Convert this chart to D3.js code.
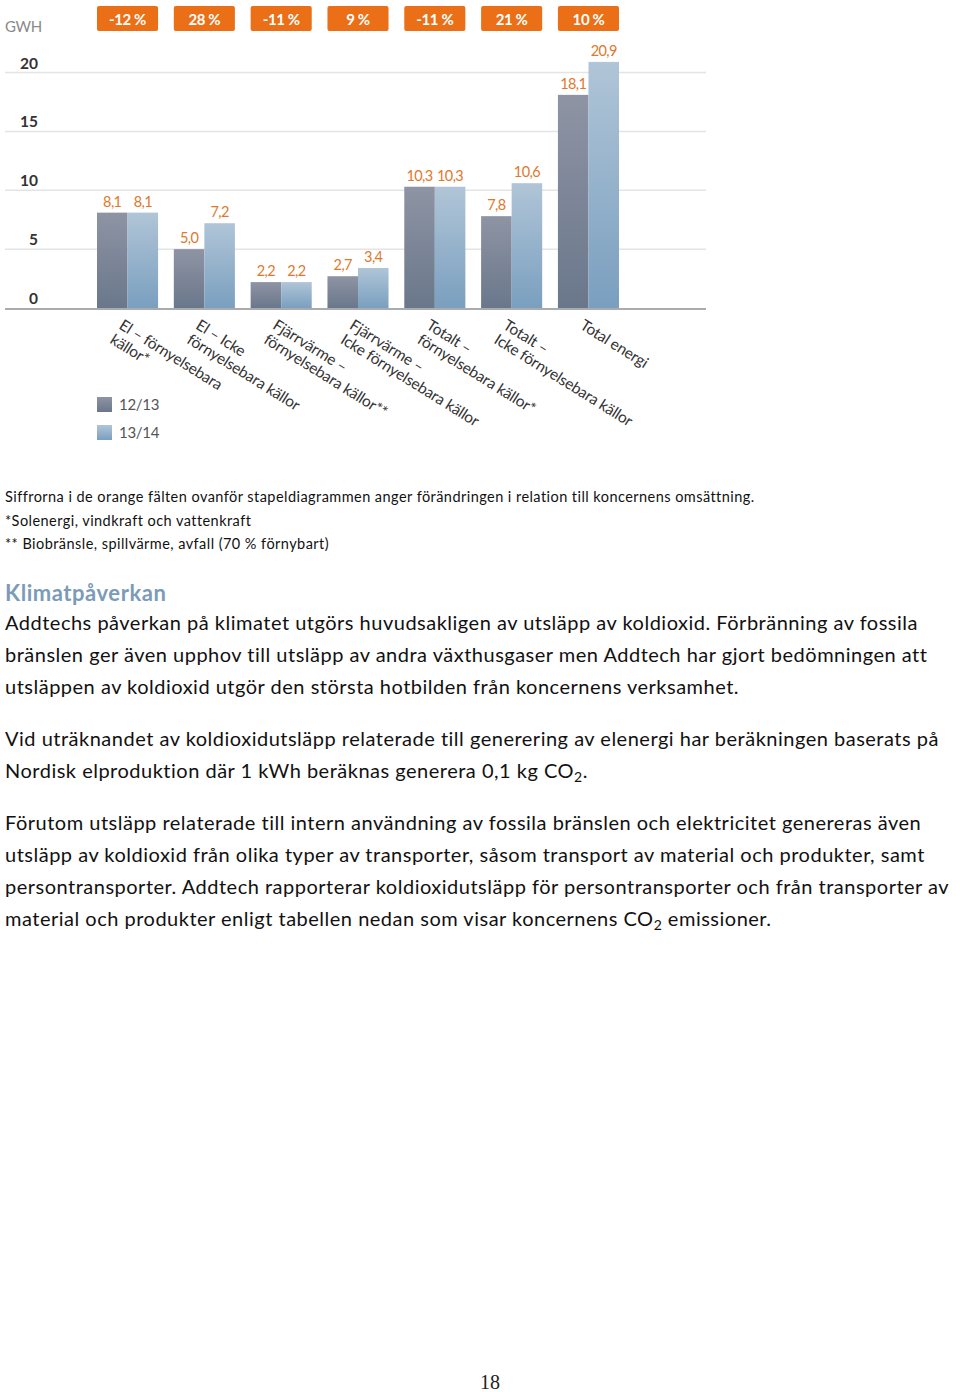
<!DOCTYPE html>
<html lang="sv">
<head>
<meta charset="UTF-8">
<title>Energiförbrukning GWh</title>
<script src="https://d3js.org/d3.v7.min.js"></script>
<style>
  body { margin: 0; background: #fff; }
  svg { display: block; }
  .tick-label { font-family: Lato, sans-serif; font-weight: 700; font-size: 15.5px; fill: #333; }
  .val-label { font-family: Lato, sans-serif; font-size: 14.5px; fill: #e0782c; letter-spacing: -0.6px; }
  .cat-label { font-family: Lato, sans-serif; font-size: 15.5px; fill: #333; letter-spacing: -0.2px; }
  .body-text { font-family: Lato, sans-serif; fill: #111; }
</style>
</head>
<body>
<div id="chart"></div>
<script>
// data
const categories = ["El – förnyelsebara källor*", "El – Icke förnyelsebara källor",
    "Fjärrvärme – förnyelsebara källor**", "Fjärrvärme – Icke förnyelsebara källor",
    "Totalt – förnyelsebara källor*", "Totalt – Icke förnyelsebara källor", "Total energi"];
const categoryLines = [
    ["El – förnyelsebara", "källor*"],
    ["El – Icke", "förnyelsebara källor"],
    ["Fjärrvärme –", "förnyelsebara källor**"],
    ["Fjärrvärme –", "Icke förnyelsebara källor"],
    ["Totalt –", "förnyelsebara källor*"],
    ["Totalt –", "Icke förnyelsebara källor"],
    ["Total energi"]
];
const years = ["12/13", "13/14"];
const values1213 = [8.1, 5.0, 2.2, 2.7, 10.3, 7.8, 18.1];
const values1314 = [8.1, 7.2, 2.2, 3.4, 10.3, 10.6, 20.9];
const changes = ["-12 %", "28 %", "-11 %", "9 %", "-11 %", "21 %", "10 %"];
const yTicks = [0, 5, 10, 15, 20];

const noteLines = [
    "Siffrorna i de orange fälten ovanför stapeldiagrammen anger förändringen i relation till koncernens omsättning.",
    "*Solenergi, vindkraft och vattenkraft",
    "** Biobränsle, spillvärme, avfall (70 % förnybart)"
];
const heading = "Klimatpåverkan";
const paragraphs = [
    ["Addtechs påverkan på klimatet utgörs huvudsakligen av utsläpp av koldioxid. Förbränning av fossila",
     "bränslen ger även upphov till utsläpp av andra växthusgaser men Addtech har gjort bedömningen att",
     "utsläppen av koldioxid utgör den största hotbilden från koncernens verksamhet."],
    ["Vid uträknandet av koldioxidutsläpp relaterade till generering av elenergi har beräkningen baserats på",
     "Nordisk elproduktion där 1 kWh beräknas generera 0,1 kg CO₂."],
    ["Förutom utsläpp relaterade till intern användning av fossila bränslen och elektricitet genereras även",
     "utsläpp av koldioxid från olika typer av transporter, såsom transport av material och produkter, samt",
     "persontransporter. Addtech rapporterar koldioxidutsläpp för persontransporter och från transporter av",
     "material och produkter enligt tabellen nedan som visar koncernens CO₂ emissioner."]
];
const pageNumber = "18";

const W = 960, H = 1392;
const svg = d3.select("#chart").append("svg")
    .attr("width", W).attr("height", H);

const data = categories.map((c, i) => ({ cat: c, vals: [values1213[i], values1314[i]], change: changes[i], lines: categoryLines[i] }));

const x = d3.scaleBand()
    .domain(categories)
    .range([97, 619])
    .paddingInner(0.205)
    .paddingOuter(0);

const xs = d3.scaleBand().domain(years).range([0, x.bandwidth()]);

const y = d3.scaleLinear().domain([0, 20]).range([308, 72.5]);

// gradients
const defs = svg.append("defs");
const grads = [["g1213", "#8e94a4", "#6a778b"], ["g1314", "#b0c5d7", "#7a9fbf"]];
grads.forEach(([id, top, bottom]) => {
    const g = defs.append("linearGradient").attr("id", id)
        .attr("x1", 0).attr("y1", 0).attr("x2", 0).attr("y2", 1);
    g.append("stop").attr("offset", "0%").attr("stop-color", top);
    g.append("stop").attr("offset", "100%").attr("stop-color", bottom);
});
const fillFor = { "12/13": "url(#g1213)", "13/14": "url(#g1314)" };

// grid
svg.append("g").selectAll("line")
    .data(yTicks.filter(d => d > 0))
    .join("line")
    .attr("x1", 5).attr("x2", 706)
    .attr("y1", d => y(d)).attr("y2", d => y(d))
    .attr("stroke", "#e2e4e6").attr("stroke-width", 1.5);

// y labels
svg.append("g").selectAll("text")
    .data(yTicks)
    .join("text")
    .attr("class", "tick-label")
    .attr("x", 38)
    .attr("y", d => y(d) - 4)
    .attr("text-anchor", "end")
    .text(d => d);

svg.append("text")
    .attr("x", 5).attr("y", 32)
    .attr("font-family", "Lato, sans-serif").attr("font-size", 15)
    .attr("fill", "#8a8a8a").attr("letter-spacing", "-0.3px")
    .text("GWH");

// orange change boxes
const boxes = svg.append("g").selectAll("g")
    .data(data)
    .join("g");
boxes.append("rect")
    .attr("x", d => x(d.cat))
    .attr("y", 6)
    .attr("width", x.bandwidth())
    .attr("height", 25)
    .attr("rx", 2)
    .attr("fill", "#ea6f16");
boxes.append("text")
    .attr("x", d => x(d.cat) + x.bandwidth() / 2)
    .attr("y", 24.5)
    .attr("text-anchor", "middle")
    .attr("font-family", "Lato, sans-serif")
    .attr("font-weight", 700)
    .attr("font-size", 15)
    .attr("letter-spacing", "-0.4px")
    .attr("fill", "#fff")
    .text(d => d.change);

// bars
const fmt = v => v.toFixed(1).replace(".", ",");
const groups = svg.append("g").selectAll("g")
    .data(data)
    .join("g")
    .attr("transform", d => `translate(${x(d.cat)},0)`);

groups.selectAll("rect")
    .data(d => d.vals.map((v, j) => ({ year: years[j], v })))
    .join("rect")
    .attr("x", d => xs(d.year))
    .attr("y", d => y(d.v))
    .attr("width", xs.bandwidth())
    .attr("height", d => y(0) - y(d.v))
    .attr("fill", d => fillFor[d.year]);

groups.selectAll("text")
    .data(d => d.vals.map((v, j) => ({ year: years[j], v })))
    .join("text")
    .attr("class", "val-label")
    .attr("x", d => xs(d.year) + xs.bandwidth() / 2)
    .attr("y", d => y(d.v) - 6)
    .attr("text-anchor", "middle")
    .text(d => fmt(d.v));

// baseline
svg.append("line")
    .attr("x1", 5).attr("x2", 706)
    .attr("y1", y(0) + 1).attr("y2", y(0) + 1)
    .attr("stroke", "#a9abad").attr("stroke-width", 2);

// rotated category labels
svg.append("g").selectAll("text")
    .data(data)
    .join("text")
    .attr("class", "cat-label")
    .attr("transform", d => `translate(${x(d.cat) + 21},328) rotate(32)`)
    .selectAll("tspan")
    .data(d => d.lines)
    .join("tspan")
    .attr("x", 0)
    .attr("dy", (d, i) => i === 0 ? 0 : 17)
    .text(d => d);

// legend
const legend = svg.append("g").selectAll("g")
    .data(years)
    .join("g")
    .attr("transform", (d, i) => `translate(97,${397 + i * 28})`);
legend.append("rect")
    .attr("width", 15).attr("height", 15)
    .attr("fill", d => fillFor[d]);
legend.append("text")
    .attr("x", 22).attr("y", 13)
    .attr("font-family", "Lato, sans-serif").attr("font-size", 15)
    .attr("fill", "#555").attr("letter-spacing", "-0.3px")
    .text(d => d);

// text below the chart
function addLine(sel, str) {
    // CO₂ with a real subscript
    const parts = str.split("₂");
    parts.forEach((p, i) => {
        const t = sel.append("tspan").text(p);
        if (i > 0) t.attr("dy", -4);
        if (i < parts.length - 1) {
            sel.append("tspan").attr("font-size", "0.7em").attr("dy", 4).text("2");
        }
    });
}

svg.append("g").selectAll("text")
    .data(noteLines)
    .join("text")
    .attr("class", "body-text")
    .attr("x", 5)
    .attr("y", (d, i) => 502 + i * 23.5)
    .attr("font-size", 14.5)
    .attr("letter-spacing", "0.45px")
    .text(d => d);

svg.append("text")
    .attr("x", 5).attr("y", 601)
    .attr("font-family", "Lato, sans-serif")
    .attr("font-weight", 700)
    .attr("font-size", 22)
    .attr("letter-spacing", "0.55px")
    .attr("fill", "#7b9bb8")
    .text(heading);

const paraTop = [630, 746, 830];
paragraphs.forEach((lines, p) => {
    lines.forEach((line, i) => {
        const t = svg.append("text")
            .attr("class", "body-text")
            .attr("x", 5)
            .attr("y", paraTop[p] + i * 32)
            .attr("font-size", 20)
            .attr("letter-spacing", "0.5px");
        addLine(t, line);
    });
});

svg.append("text")
    .attr("x", 490).attr("y", 1389)
    .attr("text-anchor", "middle")
    .attr("font-family", "'Liberation Serif', serif")
    .attr("font-size", 20)
    .attr("fill", "#222")
    .text(pageNumber);
</script>
</body>
</html>
